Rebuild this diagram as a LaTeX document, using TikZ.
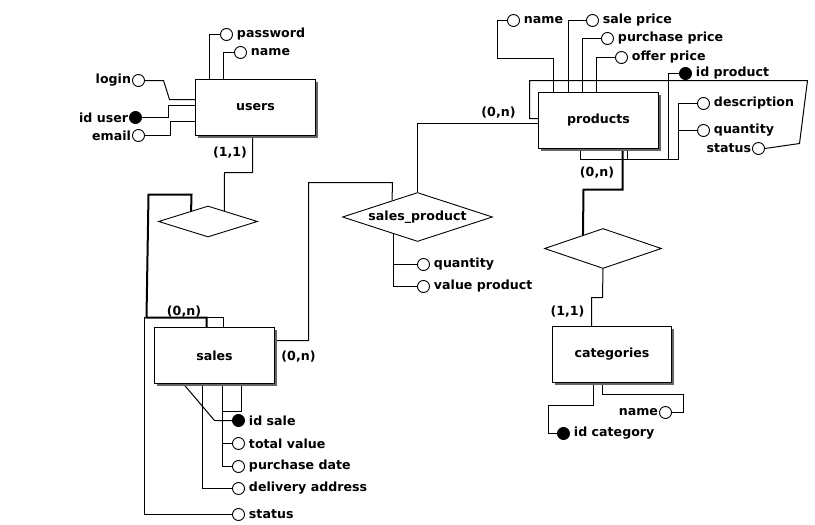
\documentclass[tikz,border=0pt]{standalone}
\usepackage{fontspec}
\setmainfont{DejaVu Sans}
\usetikzlibrary{shapes.geometric,shadows}
\pgfdeclarelayer{bg}
\pgfsetlayers{bg,main}
\begin{document}
\begin{tikzpicture}[x=1pt,y=-1pt,
  every node/.style={font=\fontsize{12.6}{14}\selectfont\bfseries},
  ent/.style={draw, fill=white, minimum width=120pt, minimum height=56pt, inner sep=0pt, line width=1pt, drop shadow={shadow xshift=2pt,shadow yshift=-2pt,fill=black!60,opacity=1}},
  rel/.style={diamond, draw, fill=white, aspect=3, inner sep=0pt, line width=0.9pt},
  attr/.style={circle, draw, fill=white, minimum size=12pt, inner sep=0pt, line width=0.9pt},
  keyattr/.style={attr, fill=black},
  ar/.style={label={[label distance=0.5pt]right:#1}},
  al/.style={label={[label distance=-2.5pt]left:#1}},
  conn/.style={line width=1pt},
  thickconn/.style={line width=2pt},
  card/.style={inner sep=0pt}
]
\useasboundingbox (-0.5,-0.5) rectangle (814.5,524.5);

% entities
\node[ent] (users) at (255,107) {users};
\node[ent] (sales) at (214,355) {sales};
\node[ent] (products) at (598,120) {products};
\node[ent, minimum width=119pt] (categories) at (611.5,354) {categories};

% relationships
\node[rel, minimum width=99pt, minimum height=31pt] (d1) at (207.5,221) {};
\node[rel, minimum width=150pt, minimum height=49pt] (sp) at (417,216.5) {sales\_product};
\node[rel, minimum width=117pt, minimum height=40pt] (d3) at (602.5,248) {};

% users attributes
\node[attr, ar=password] (upw) at (226,34) {};
\node[attr, ar=name] (unm) at (240,52) {};
\node[attr, al=login] (ulogin) at (138,80) {};
\node[keyattr, al=id user] (uid) at (135,117) {};
\node[attr, al=email] (uemail) at (138,135) {};

% sales attributes
\node[keyattr, ar=id sale] (sid) at (238,420) {};
\node[attr, ar=total value] (stv) at (238,443) {};
\node[attr, ar=purchase date] (spd) at (238,466) {};
\node[attr, ar=delivery address] (sda) at (238,488) {};
\node[attr, ar=status] (sst) at (238,514) {};

% sales_product attributes
\node[attr, ar=quantity] (spq) at (423,264) {};
\node[attr, ar=value product] (spv) at (423,286) {};

% products attributes
\node[attr, ar=name] (pname) at (513,20) {};
\node[attr, ar=sale price] (psp) at (592,20) {};
\node[attr, ar=purchase price] (ppp) at (607,38) {};
\node[attr, ar=offer price] (pop) at (621,57) {};
\node[keyattr, ar=id product] (pid) at (685,73) {};
\node[attr, ar=description] (pdesc) at (703,103) {};
\node[attr, ar=quantity] (pqty) at (703,130) {};
\node[attr, al=status] (pst) at (758,148) {};

% categories attributes
\node[attr, al=name] (cname) at (665,412) {};
\node[keyattr, ar=id category] (cid) at (563,433) {};

% cardinalities
\node[card] (c1) at (229.5,152) {(1,1)};
\node[card] (c2) at (183.5,311) {(0,n)};
\node[card] (c3) at (298,356) {(0,n)};
\node[card] (c4) at (498,112) {(0,n)};
\node[card] (c5) at (596.5,172) {(0,n)};
\node[card] (c6) at (567,311) {(1,1)};

\begin{pgfonlayer}{bg}
\fill[white] (-0.5,-0.5) rectangle (814.5,524.5);
% users attribute connectors
\draw[conn] (209,0 |- users.north) |- (upw.west);
\draw[conn] (223,0 |- users.north) |- (unm.west);
\draw[conn] (ulogin.east) -- (163,80) -- (169,99) -- (users.west |- 0,99);
\draw[conn] (uid.east) -| (168,105) -- (users.west |- 0,105);
\draw[conn] (uemail.east) -| (170,121) -- (users.west |- 0,121);
% users - d1
\draw[conn] (252,0 |- users.south) -- (252,172) -- (224,172) -- (d1.33);
% d1 - sales (thick)
\draw[thickconn] (d1.148) -- (191,194) -- (148,194) -- (146,317) -- (206,317) -- (206,0 |- sales.north);
% sales status
\draw[conn] (223,0 |- sales.north) -- (223,317) -- (144,317) |- (sst.west);
% sales attributes
\draw[conn] (183,0 |- sales.south) -- (214,420) -- (sid.west);
\draw[conn] (202,0 |- sales.south) |- (sda.west);
\draw[conn] (222,0 |- sales.south) |- (spd.west);
\draw[conn] (222,0 |- stv.west) -- (stv.west);
\draw[conn] (241,0 |- sales.south) |- (222,411);
% sales - sales_product
\draw[conn] (sales.east |- 0,340) -- (308,340) -- (308,182) -- (392,182) -- (sp.147);
% products - sales_product
\draw[conn] (products.west |- 0,123) -- (417,123) -- (sp.north);
% sales_product attributes
\draw[conn] (sp.215) |- (spv.west);
\draw[conn] (393,0 |- spq.west) -- (spq.west);
% products attributes
\draw[conn] (553,0 |- products.north) |- (497,58) |- (pname.west);
\draw[conn] (568,0 |- products.north) |- (psp.west);
\draw[conn] (582,0 |- products.north) |- (ppp.west);
\draw[conn] (596,0 |- products.north) |- (pop.west);
\draw[conn] (580,0 |- products.south) |- (678,159) |- (pdesc.west);
\draw[conn] (678,0 |- pqty.west) -- (pqty.west);
\draw[conn] (668,159) |- (pid.west);
\draw[conn] (627,0 |- products.south) -- (627,159);
\draw[conn] (pst.east) -- (799,143) -- (807,80) -- (529,80) -- (529,118) -- (products.west |- 0,118);
% products - d3 (thick)
\draw[thickconn] (622,0 |- products.south) -- (622,189) -- (583,189) -- (d3.146);
% d3 - categories
\draw[conn] (d3.south) -- (602,297) -- (591,297) -- (591,0 |- categories.north);
% categories attributes
\draw[conn] (602,0 |- categories.south) |- (683,394) |- (cname.east);
\draw[conn] (593,0 |- categories.south) |- (548,405) |- (cid.west);
\end{pgfonlayer}
\end{tikzpicture}
\end{document}
